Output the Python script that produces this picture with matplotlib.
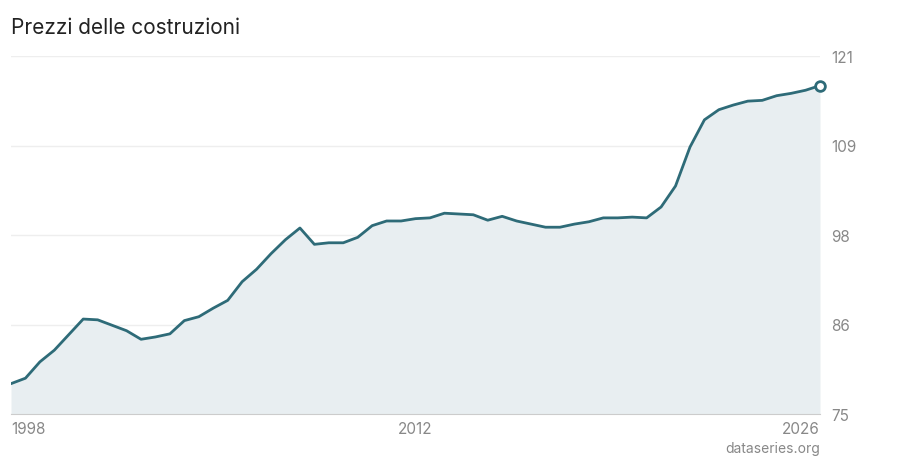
import matplotlib
matplotlib.use("Agg")
import matplotlib.pyplot as plt
import numpy as np

plt.rcParams['font.family'] = ['Inter', 'DejaVu Sans']

years = np.arange(1998, 2026.01, 0.5)
values = [78.9, 79.6, 81.7, 83.2, 85.2, 87.2, 87.1, 86.4, 85.7, 84.6, 84.9, 85.3, 87.0, 87.5,
          88.6, 89.6, 92.0, 93.6, 95.6, 97.4, 98.9, 96.8, 97.0, 97.0, 97.7, 99.2, 99.8, 99.8,
          100.1, 100.2, 100.8, 100.7, 100.6, 99.9, 100.4, 99.8, 99.4, 99.0, 99.0, 99.4, 99.7,
          100.2, 100.2, 100.3, 100.2, 101.6, 104.3, 109.3, 112.8, 114.1, 114.7, 115.2, 115.3,
          115.9, 116.2, 116.6, 117.2]
yticks = [75, 86.5, 98, 109.5, 121]
ylabels = ["75", "86", "98", "109", "121"]
xticks = [1998, 2012, 2026]

color = "#2e6b78"
fig = plt.figure(figsize=(9, 4.6), dpi=100)
ax = fig.add_axes([11/900, 45/460, 809/900, 358/460])
ax.fill_between(years, values, 75, color="#e8eef1", lw=0)
ax.plot(years, values, color=color, lw=2)
ax.plot(years[-1], values[-1], "o", ms=7, mfc="white", mec=color, mew=2, clip_on=False)
ax.set_xlim(1998, 2026)
ax.set_ylim(75, 121)
ax.set_yticks(yticks)
ax.set_yticklabels(ylabels)
ax.yaxis.tick_right()
ax.set_xticks(xticks)
ax.set_xticklabels([str(x) for x in xticks])
lbls = ax.get_xticklabels()
lbls[0].set_ha("left"); lbls[-1].set_ha("right")
ax.tick_params(length=0, labelsize=11, colors="#888888", pad=8)
ax.tick_params(axis="x", pad=5)
ax.grid(axis="y", color="#eeeeee", lw=1)
ax.grid(axis="x", visible=False)
for s in ["top", "right", "left"]:
    ax.spines[s].set_visible(False)
ax.spines["bottom"].set_color("#cccccc")
ax.set_axisbelow(True)
fig.text(11/900, 1 - 28/460, "Prezzi delle costruzioni", fontsize=15, color="#222222", va="center")
fig.text(820/900, 1 - 449/460, "dataseries.org", fontsize=10, color="#888888", ha="right", va="center")
fig.savefig("out.png", dpi=100)
